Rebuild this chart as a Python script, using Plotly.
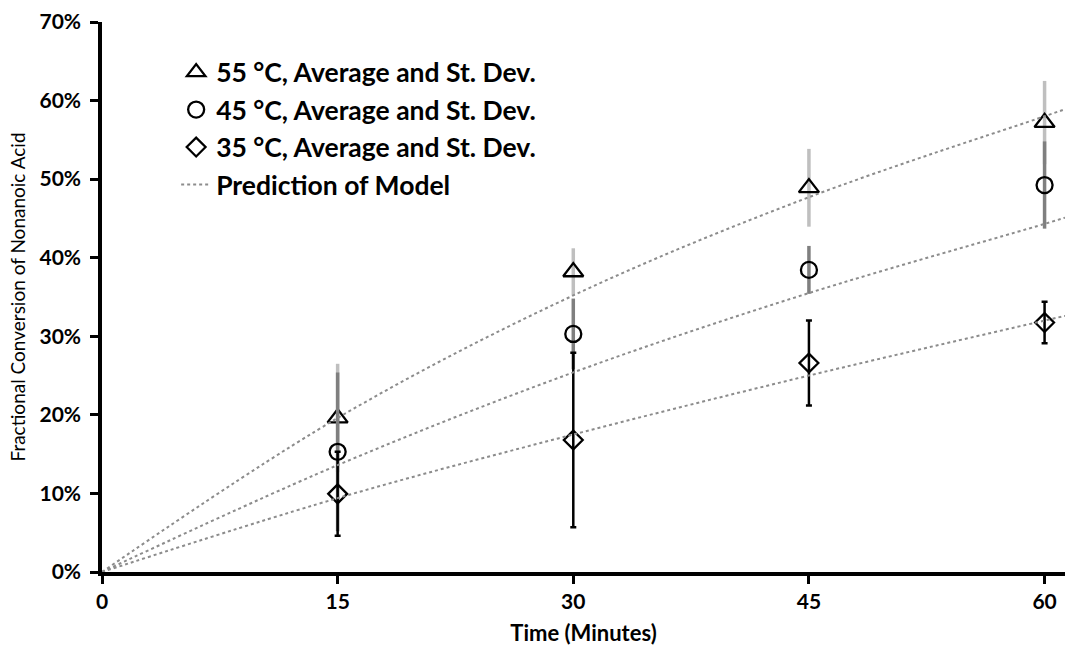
import plotly.graph_objects as go

# Sampling times (minutes)
time_min = [15, 30, 45, 60]

# Measured fractional conversion (%) and standard deviation at each temperature
conv_55 = [19.6, 38.2, 48.9, 57.2]
sd_55 = [6.9, 3.0, 4.95, 5.3]
conv_45 = [15.3, 30.3, 38.45, 49.25]
sd_45 = [10.1, 4.5, 3.05, 5.55]
conv_35 = [9.95, 16.8, 26.6, 31.75]
sd_35 = [5.35, 11.1, 5.4, 2.65]

# Kinetic model prediction (%)
model_time = [0, 15, 30, 45, 60, 61.3]
model_55 = [0, 19.6, 35.2, 47.7, 58.0, 58.9]
model_45 = [0, 13.6, 25.4, 35.5, 44.3, 45.1]
model_35 = [0, 9.4, 17.5, 25.0, 32.0, 32.6]

x_ticks = [0, 15, 30, 45, 60]
y_ticks = [0, 10, 20, 30, 40, 50, 60, 70]
y_labels = [f"{v}%" for v in y_ticks]
x_range = [0, 61.3]
y_range = [0, 70]

FONT = "Lato"

fig = go.Figure()

measured = [
    ("55 °C, Average and St. Dev.", conv_55, sd_55, "triangle-up-open", 17.5, "#bfbfbf", 3.5, 0),
    ("45 °C, Average and St. Dev.", conv_45, sd_45, "circle-open", 16, "#7f7f7f", 3.5, 0),
    ("35 °C, Average and St. Dev.", conv_35, sd_35, "diamond-open", 14.5, "#000000", 2.5, 3),
]
for i, (name, y, sd, sym, size, ecolor, ethick, ewidth) in enumerate(measured):
    fig.add_trace(go.Scatter(
        x=time_min, y=y, mode="markers", name=name,
        legendgroup=f"g{i}",
        marker=dict(symbol=sym, size=size, color="black", line=dict(width=2.3, color="black")),
        error_y=dict(type="data", array=sd, visible=True, color=ecolor,
                     thickness=ethick, width=ewidth),
    ))

for j, ym in enumerate([model_55, model_45, model_35]):
    fig.add_trace(go.Scatter(
        x=model_time, y=ym, mode="lines", name="Prediction of Model",
        legendgroup="model", showlegend=(j == 0),
        line=dict(color="#8c8c8c", width=2, dash="dot", shape="spline"),
    ))

tick_font = dict(family=FONT, size=21, color="black", weight="bold")
axis_common = dict(showgrid=False, zeroline=False, showline=True, linecolor="black",
                   linewidth=3.5, ticks="outside", ticklen=8, tickwidth=3, tickcolor="black")

fig.update_layout(
    width=1067, height=648,
    margin=dict(l=102, r=2, t=22, b=76),
    plot_bgcolor="white", paper_bgcolor="white",
    font=dict(family=FONT, color="black"),
    xaxis=dict(range=x_range, tickvals=x_ticks, tickfont=tick_font,
               title=dict(text="Time (Minutes)",
                          font=dict(family=FONT, size=22, weight="bold", color="black"),
                          standoff=15),
               **axis_common),
    yaxis=dict(range=y_range, tickvals=y_ticks, ticktext=y_labels, tickfont=tick_font,
               ticklabelstandoff=5,
               title=dict(text="Fractional Conversion of Nonanoic Acid",
                          font=dict(family=FONT, size=19, color="black"), standoff=10),
               **axis_common),
    xaxis2=dict(overlaying="x", anchor="y", range=x_range, tickvals=x_ticks,
                showticklabels=False, showgrid=False, zeroline=False, showline=False,
                ticks="inside", ticklen=8, tickwidth=3, tickcolor="black"),
    yaxis2=dict(overlaying="y", anchor="x", side="left", range=y_range, tickvals=y_ticks,
                showticklabels=False, showgrid=False, zeroline=False, showline=False,
                ticks="inside", ticklen=8, tickwidth=3, tickcolor="black"),
    legend=dict(x=0.077, y=0.952, xanchor="left", yanchor="top",
                bgcolor="rgba(0,0,0,0)",
                font=dict(family=FONT, size=26.5, weight="bold", color="black"),
                traceorder="grouped", tracegroupgap=0, itemwidth=30),
    showlegend=True,
)

fig.write_html("out.html")
